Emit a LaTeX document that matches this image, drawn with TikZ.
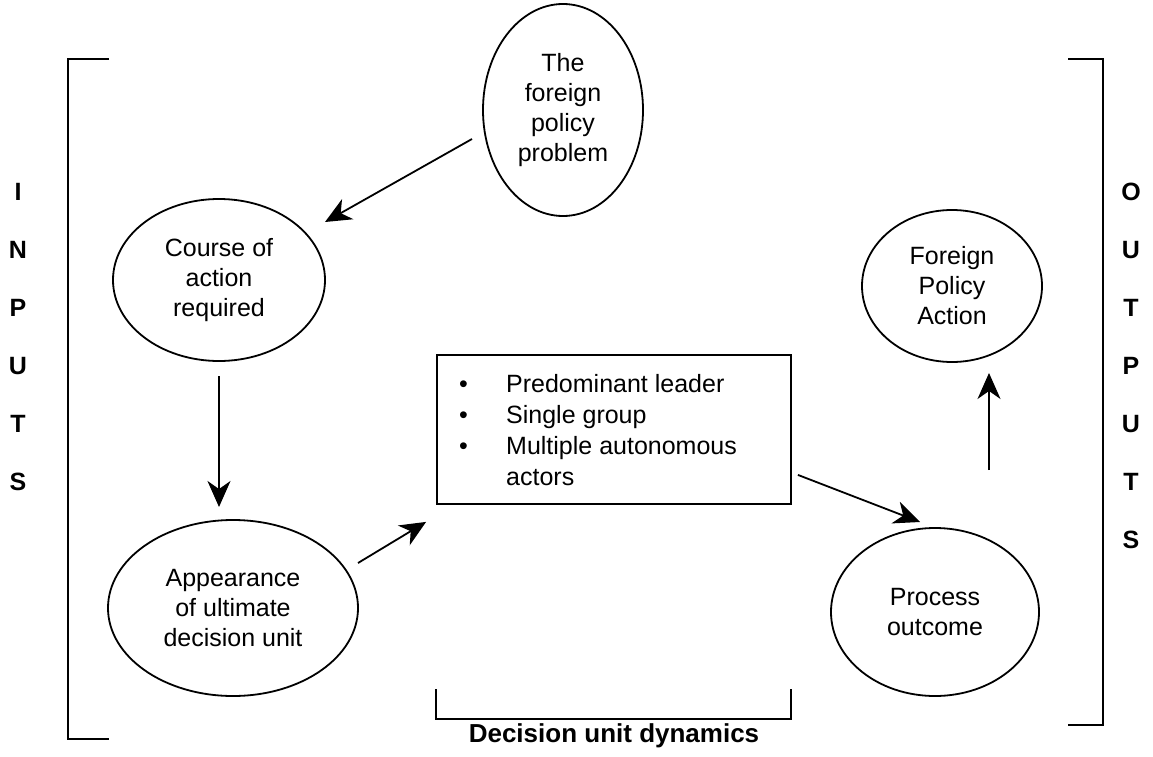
\documentclass[tikz,border=0pt]{standalone}
\usepackage{fontspec}
\setmainfont{Liberation Sans}
\usetikzlibrary{shapes.geometric,arrows.meta,calc}
\begin{document}
\begin{tikzpicture}[x=1pt,y=-1pt,
  every node/.style={font=\fontsize{25}{30}\selectfont},
  oval/.style={draw, line width=1.8pt, ellipse, inner sep=0pt, align=center},
  flow/.style={line width=1.8pt, -{Stealth[length=26pt,width=23pt,inset=8pt]}},
  brk/.style={line width=2pt},
  side/.style={font=\fontsize{25}{30}\selectfont\bfseries, inner sep=0pt}]
\useasboundingbox (0,0) rectangle (1153,757);
\fill[white] (0,0) rectangle (1153,757);

% outer brackets
\draw[brk] (109,59) -- (68,59) -- (68,739) -- (109,739);
\draw[brk] (1068,59) -- (1103,59) -- (1103,725) -- (1068,725);

% side captions
\foreach \ch [count=\i] in {I,N,P,U,T,S}
  \node[side] (in\i) at (18,{192+58*(\i-1)}) {\ch};
\foreach \ch [count=\i] in {O,U,T,P,U,T,S}
  \node[side] (out\i) at (1131,{192+58*(\i-1)}) {\ch};

% stages
\node[oval, minimum width=160pt, minimum height=212pt] (prob) at (563,110) {The\\foreign\\policy\\problem};
\node[oval, minimum width=212pt, minimum height=162pt] (course) at (219,280) {Course of\\action\\required};
\node[oval, minimum width=250pt, minimum height=176pt] (appear) at (233,608) {Appearance\\of ultimate\\decision unit};
\node[oval, minimum width=180pt, minimum height=152pt] (fpa) at (952,286) {Foreign\\Policy\\Action};
\node[oval, minimum width=208pt, minimum height=168pt] (outcome) at (935,612) {Process\\outcome};

% decision unit box
\node[draw, line width=1.8pt, minimum width=354pt, minimum height=149pt, inner sep=0pt] (dyn) at (614,429.5) {};
\node[anchor=north west, inner sep=0pt, align=left, font=\fontsize{25}{31}\selectfont] (units) at (459,374)
  {\makebox[47pt][l]{•}Predominant leader\\
   \makebox[47pt][l]{•}Single group\\
   \makebox[47pt][l]{•}Multiple autonomous\\
   \hspace*{47pt}actors};

% flow
\draw[flow] ($(prob.center)+(-91,29)$) -- ($(course.center)+(106,-58)$);
\draw[flow] ($(course.center)+(0,96)$) -- ($(course.center)+(0,227)$);
\draw[flow] ($(appear.center)+(125,-45)$) -- ($(dyn.south west)+(-10,17)$);
\draw[flow] ($(dyn.south east)+(6,-30)$) -- ($(outcome.center)+(-15,-90)$);
\draw[flow] ($(outcome.center)+(54,-142)$) -- ($(fpa.center)+(37,87)$);

% decision unit dynamics bracket
\draw[brk] (436,689) -- (436,719) -- (791,719) -- (791,689);
\node[font=\fontsize{26}{30}\selectfont\bfseries] (dud) at (614,736) {Decision unit dynamics};
\end{tikzpicture}
\end{document}
